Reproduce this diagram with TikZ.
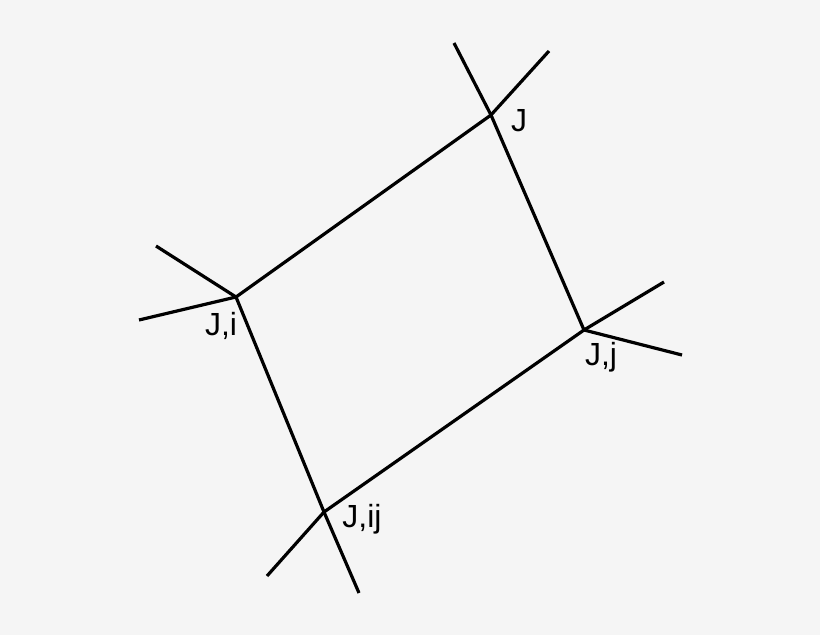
\documentclass[tikz,border=0pt]{standalone}
\usepackage{fontspec}
\setmainfont{Liberation Sans}
\definecolor{bg}{HTML}{F5F5F5}
\begin{document}
\begin{tikzpicture}[x=1pt,y=-1pt,
  edge/.style={line width=3.2pt,black},
  lbl/.style={font=\fontsize{32}{32}\selectfont,inner sep=0pt}]
\fill[bg] (0,0) rectangle (820,635);
\useasboundingbox (0,0) rectangle (820,635);
\coordinate (J) at (491,115);
\coordinate (Ji) at (236,297);
\coordinate (Jj) at (584,330);
\coordinate (Jij) at (324,512);
\coordinate (a1) at (454,43);
\coordinate (a2) at (549,51);
\coordinate (b1) at (156,246);
\coordinate (b2) at (139,320);
\coordinate (c1) at (664,282);
\coordinate (c2) at (682,355);
\coordinate (d1) at (267,576);
\coordinate (d2) at (359,593);
\draw[edge] (J) -- (Ji) -- (Jij) -- (Jj) -- cycle;
\draw[edge] (J) -- (a1); \draw[edge] (J) -- (a2);
\draw[edge] (Ji) -- (b1); \draw[edge] (Ji) -- (b2);
\draw[edge] (Jj) -- (c1); \draw[edge] (Jj) -- (c2);
\draw[edge] (Jij) -- (d1); \draw[edge] (Jij) -- (d2);
\node[lbl] (lJ) at (519,121) {J};
\node[lbl] (lJi) at (221,326) {J,i};
\node[lbl] (lJj) at (601,357) {J,j};
\node[lbl] (lJij) at (362,519) {J,ij};
\end{tikzpicture}
\end{document}
